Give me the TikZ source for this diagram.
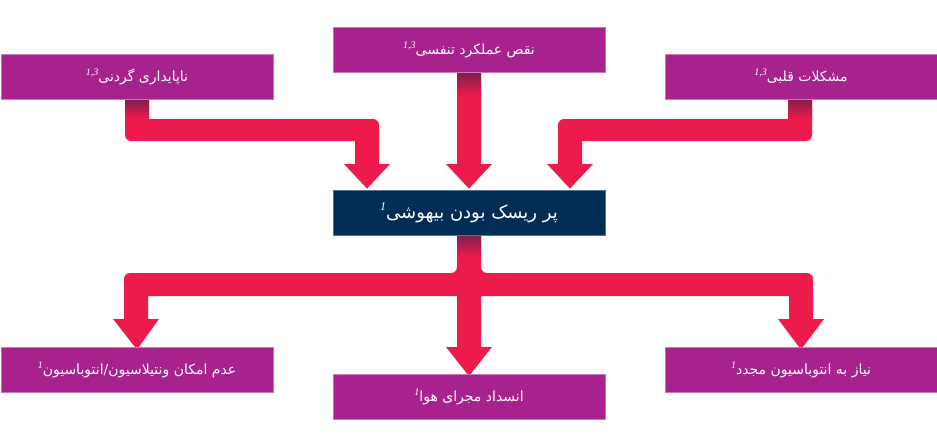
\documentclass[tikz,border=0pt]{standalone}
\usepackage{fontspec}
\usetikzlibrary{backgrounds}
\TeXXeTstate=1
\newfontfamily\fafont[Script=Arabic]{DejaVu Sans}
\newfontfamily\supfont{Liberation Serif}
\definecolor{boxpurple}{HTML}{A8228E}
\definecolor{boxedge}{HTML}{C57AB6}
\definecolor{boxnavy}{HTML}{002C55}
\definecolor{navyedge}{HTML}{5A7290}
\definecolor{arrowred}{HTML}{EC1B4B}
\definecolor{arrowdark}{HTML}{7E1E4E}
\newcommand\falabel[3]{{\fafont\beginR #1\raisebox{0.42em}{\fontsize{#3}{#3}\supfont\itshape\beginL #2\endL}\endR}}
\tikzset{
  pbox/.style={fill=boxpurple, draw=boxedge, line width=0.8pt, minimum width=272pt, minimum height=45pt,
    inner sep=0pt, text=white, font=\fontsize{14}{16}\selectfont},
  nbox/.style={fill=boxnavy, draw=navyedge, line width=0.8pt, minimum width=272pt, minimum height=45pt,
    inner sep=0pt, text=white, font=\fontsize{18}{20}\selectfont},
  fatarrow/.style={fill=arrowred, draw=none},
  shadowfade/.style={top color=arrowdark, bottom color=arrowred, draw=none}
}
\begin{document}
\begin{tikzpicture}[x=1pt,y=-1pt]
\useasboundingbox (0,0) rectangle (937,445);

% boxes
\node[pbox] (tl) at (137,76.5) {\falabel{ناپایداری گردنی}{1,3}{10}};
\node[pbox] (tm) at (469,49.5) {\falabel{نقص عملکرد تنفسی}{1,3}{10}};
\node[pbox] (tr) at (801,76.5) {\falabel{مشکلات قلبی}{1,3}{10}};
\node[nbox] (c) at (469,212.5) {\falabel{پر ریسک بودن بیهوشی}{1}{12}};
\node[pbox] (bl) at (137,369.5) {\falabel{عدم امکان ونتیلاسیون/انتوباسیون}{1}{10}};
\node[pbox] (bm) at (469,397) {\falabel{انسداد مجرای هوا}{1}{10}};
\node[pbox] (br) at (801,369.5) {\falabel{نیاز به انتوباسیون مجدد}{1}{10}};

\begin{scope}[on background layer]
% top-left
\fill[fatarrow] ([xshift=-12pt]tl.south) -- (125,135) arc[start angle=180, end angle=90, radius=6]
  -- (355,141) -- (355,164) -- (344,164) -- ([xshift=-102pt,yshift=1pt]c.north) -- (390,164) -- (379,164)
  -- (379,125) arc[start angle=0, end angle=-90, radius=6] -- (149,119) -- ([xshift=12pt]tl.south) -- cycle;
% top-middle
\fill[fatarrow] ([xshift=-12pt]tm.south) -- (457,164) -- (446,164) -- ([yshift=1pt]c.north) -- (492,164) -- (481,164)
  -- ([xshift=12pt]tm.south) -- cycle;
% top-right
\fill[fatarrow] ([xshift=11pt]tr.south) -- (812,135) arc[start angle=0, end angle=90, radius=6]
  -- (582,141) -- (582,164) -- (593,164) -- ([xshift=101pt,yshift=1pt]c.north) -- (547,164) -- (558,164)
  -- (558,125) arc[start angle=180, end angle=270, radius=6] -- (788,119) -- ([xshift=-13pt]tr.south) -- cycle;
% bottom
\fill[fatarrow] ([xshift=-12pt]c.south) -- (457,267) arc[start angle=0, end angle=90, radius=6]
  -- (130,273) arc[start angle=270, end angle=180, radius=6]
  -- (124,319) -- (113,319) -- ([yshift=-3pt]bl.north) -- (159,319) -- (148,319) -- (148,296)
  -- (457,296) -- (457,347) -- (446,347) -- ([yshift=-2pt]bm.north) -- (492,347) -- (481,347) -- (481,296)
  -- (789,296) -- (789,319) -- (778,319) -- ([yshift=-3pt]br.north) -- (824,319) -- (813,319)
  -- (813,279) arc[start angle=0, end angle=-90, radius=6]
  -- (487,273) arc[start angle=90, end angle=180, radius=6]
  -- ([xshift=12pt]c.south) -- cycle;
% shadow fades under the boxes
\shade[shadowfade] (125,99) rectangle (149,118);
\shade[shadowfade] (457,72) rectangle (481,96);
\shade[shadowfade] (788,99) rectangle (812,118);
\shade[shadowfade] (457,235) rectangle (481,257);
\end{scope}
\end{tikzpicture}
\end{document}
